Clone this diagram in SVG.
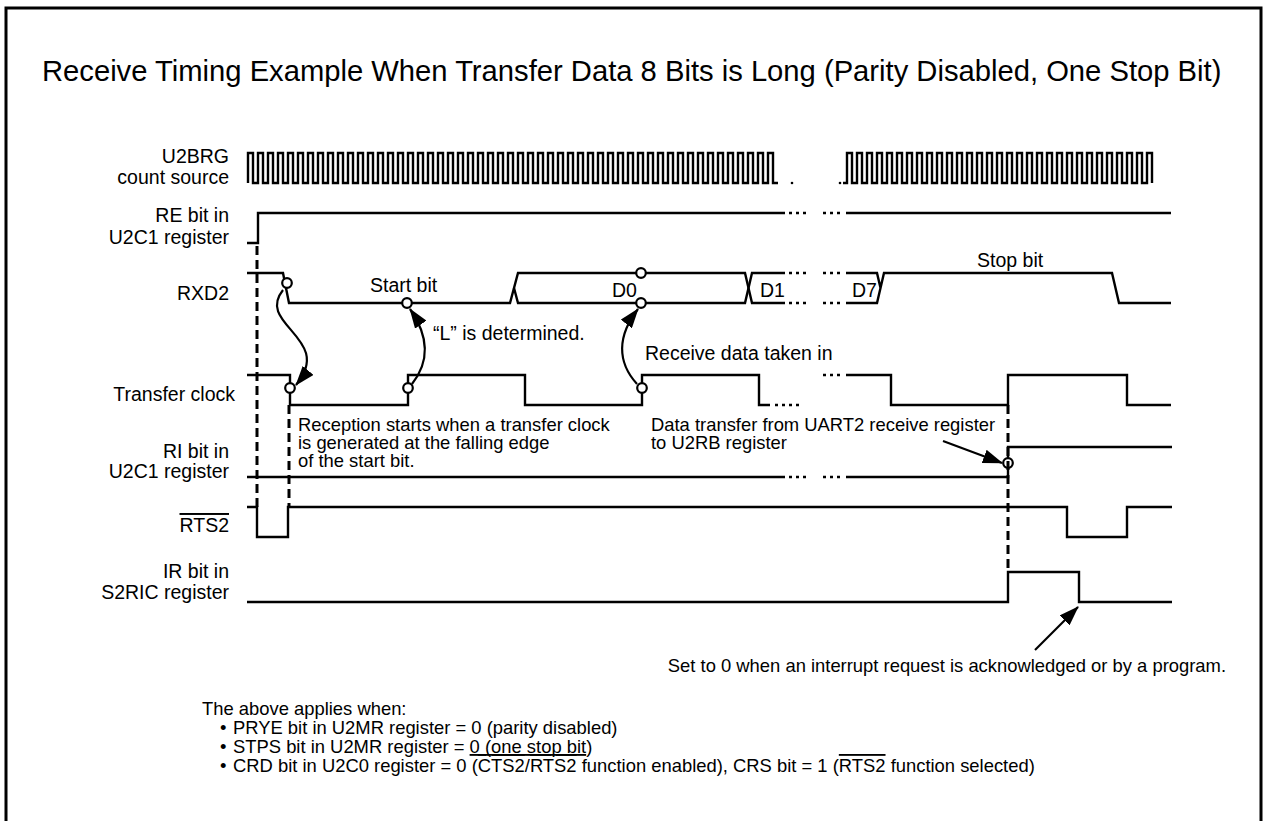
<svg xmlns="http://www.w3.org/2000/svg" width="1265" height="821" viewBox="0 0 1265 821">
<style>
text{font-family:"Liberation Sans",Arial,sans-serif;font-size:19.5px;fill:#000}
.lbl{text-anchor:end}
.title{font-size:29.2px}
.note{font-size:18.4px}
.w{fill:none;stroke:#000;stroke-width:2.4;stroke-linejoin:miter}
.dots{fill:none;stroke:#000;stroke-width:2.4;stroke-dasharray:3 4}
.dash{fill:none;stroke:#000;stroke-width:3;stroke-dasharray:9 5}
.c{fill:#fff;stroke:#000;stroke-width:2.2}
.arr{fill:none;stroke:#000;stroke-width:2.2}
.ol{text-decoration:overline}
.ul{text-decoration:underline}
</style>
<defs>
<marker id="ah" markerUnits="userSpaceOnUse" viewBox="0 0 20 14" refX="19" refY="7" markerWidth="20" markerHeight="14" orient="auto">
<path d="M0,0 L20,7 L0,14 z" fill="#000"/>
</marker>
</defs>
<rect x="6" y="8" width="1255" height="840" fill="#fff" stroke="#000" stroke-width="3"/>
<text id="title" class="title" x="42" y="81">Receive Timing Example When Transfer Data 8 Bits is Long (Parity Disabled, One Stop Bit)</text>

<g id="sig-u2brg">
<text class="lbl" x="229" y="163">U2BRG</text>
<text class="lbl" x="229" y="184">count source</text>
<path class="w" d="M248,183v-30h5v30h5v-30h5v30h5v-30h5v30h5v-30h5v30h5v-30h5v30h5v-30h5v30h5v-30h5v30h5v-30h5v30h5v-30h5v30h5v-30h5v30h5v-30h5v30h5v-30h5v30h5v-30h5v30h5v-30h5v30h5v-30h5v30h5v-30h5v30h5v-30h5v30h5v-30h5v30h5v-30h5v30h5v-30h5v30h5v-30h5v30h5v-30h5v30h5v-30h5v30h5v-30h5v30h5v-30h5v30h5v-30h5v30h5v-30h5v30h5v-30h5v30h5v-30h5v30h5v-30h5v30h5v-30h5v30h5v-30h5v30h5v-30h5v30h5v-30h5v30h5v-30h5v30h5v-30h5v30h5v-30h5v30h5v-30h5v30h5v-30h5v30h5v-30h5v30h5v-30h5v30h5v-30h5v30h5v-30h5v30h5v-30h5v30h5v-30h5v30h5v-30h5v30h5v-30h5v30h5v-30h5v30h5v-30h5v30h5v-30h5v30h5v-30h5v30h5v-30h5v30h5v-30h5v30h5"/>
<circle cx="792" cy="183" r="1.3"/>
<circle cx="840" cy="183" r="1.3"/>
<path class="w" d="M843,183h4v-30h5v30h5v-30h5v30h5v-30h5v30h5v-30h5v30h5v-30h5v30h5v-30h5v30h5v-30h5v30h5v-30h5v30h5v-30h5v30h5v-30h5v30h5v-30h5v30h5v-30h5v30h5v-30h5v30h5v-30h5v30h5v-30h5v30h5v-30h5v30h5v-30h5v30h5v-30h5v30h5v-30h5v30h5v-30h5v30h5v-30h5v30h5v-30h5v30h5v-30h5v30h5v-30h5v30h5v-30h5v30h5v-30h5v30h5v-30h5v30h5v-30h5v30h5v-30h5v30h5v-30h5v30h5v-30h5v30"/>
</g>

<g id="sig-re">
<text class="lbl" x="229" y="222">RE bit in</text>
<text class="lbl" x="229" y="244">U2C1 register</text>
<path class="w" d="M247,243H258V213H785"/>
<path class="dots" d="M789,213H807M823,213H841"/>
<path class="w" d="M846,213H1171"/>
</g>

<g id="sig-rxd2">
<text class="lbl" x="229" y="300">RXD2</text>
<path class="w" d="M247,273H283L289,303H510L518,273H745L752,303H785"/>
<path class="w" d="M514,288L518,303H745L752,273H785"/>
<path class="dots" d="M789,273H807M789,303H807M823,273H841M823,303H841"/>
<path class="w" d="M846,273H877L880.5,288M846,303H877L884,273H1112L1119,303H1171"/>
<text x="370" y="292">Start bit</text>
<text x="612" y="297">D0</text>
<text x="760" y="297">D1</text>
<text x="852" y="297">D7</text>
<text x="977" y="267">Stop bit</text>
<circle class="c" cx="287" cy="283" r="4.8"/>
<circle class="c" cx="407" cy="303" r="4.8"/>
<circle class="c" cx="641" cy="273" r="4.8"/>
<circle class="c" cx="641" cy="303" r="4.8"/>
</g>

<g id="sig-clock">
<text class="lbl" x="235" y="401">Transfer clock</text>
<path class="w" d="M247,375H290V405H408V375H525V405H642V375H759V405H770"/>
<path class="dots" d="M775,405H800M823,375H841"/>
<path class="w" d="M846,375H891V405H1008V375H1127V405H1171"/>
<circle class="c" cx="290" cy="388" r="4.8"/>
<circle class="c" cx="408" cy="388" r="4.8"/>
<circle class="c" cx="642" cy="388" r="4.8"/>
</g>

<g id="sig-ri">
<text class="lbl" x="229" y="458">RI bit in</text>
<text class="lbl" x="229" y="478">U2C1 register</text>
<path class="w" d="M247,477H785"/>
<path class="dots" d="M789,477H807M823,477H841"/>
<path class="w" d="M846,477H1008V447H1172"/>
<circle class="c" cx="1008" cy="463" r="4.8"/>
</g>

<g id="sig-rts2">
<text class="lbl ol" x="229" y="532">RTS2</text>
<path class="w" d="M247,507H257V537H288V507H1067V537H1127V507H1172"/>
</g>

<g id="sig-ir">
<text class="lbl" x="229" y="578">IR bit in</text>
<text class="lbl" x="229" y="599">S2RIC register</text>
<path class="w" d="M247,602H1008V572H1079V602H1172"/>
</g>

<g id="guides">
<path class="dash" d="M257,246V507"/>
<path class="dash" d="M289,405V507"/>
<path class="dash" d="M1008,405V572"/>
</g>

<g id="connectors">
<path class="arr" d="M283,290C255,325 335,338 296,385" marker-end="url(#ah)"/>
<path class="arr" d="M412,384C431,360 428,335 410,309" marker-end="url(#ah)"/>
<path class="arr" d="M637,384C617,362 617,336 638,309" marker-end="url(#ah)"/>
<path class="arr" d="M943,441L1002,463" marker-end="url(#ah)"/>
<path class="arr" d="M1035,650L1078,607" marker-end="url(#ah)"/>
</g>

<g id="notes">
<text x="433" y="340">“L” is determined.</text>
<text x="645" y="360">Receive data taken in</text>
<text class="note" x="298" y="431">Reception starts when a transfer clock</text>
<text class="note" x="298" y="449">is generated at the falling edge</text>
<text class="note" x="298" y="467">of the start bit.</text>
<text class="note" x="651" y="431">Data transfer from UART2 receive register</text>
<text class="note" x="651" y="449">to U2RB register</text>
<text class="note" x="1226" y="672" text-anchor="end">Set to 0 when an interrupt request is acknowledged or by a program.</text>
<text class="note" x="202" y="715">The above applies when:</text>
<text class="note" x="220" y="734">•</text><text class="note" x="233" y="734">PRYE bit in U2MR register = 0 (parity disabled)</text>
<text class="note" x="220" y="753">•</text><text class="note" x="233" y="753">STPS bit in U2MR register = <tspan class="ul">0 (one stop bit</tspan>)</text>
<text class="note" x="220" y="772">•</text><text class="note" x="233" y="772">CRD bit in U2C0 register = 0 (<tspan class="ol">CTS2</tspan>/<tspan class="ol">RTS2</tspan> function enabled), CRS bit = 1 (<tspan class="ol">RTS2</tspan> function selected)</text>
</g>
</svg>
